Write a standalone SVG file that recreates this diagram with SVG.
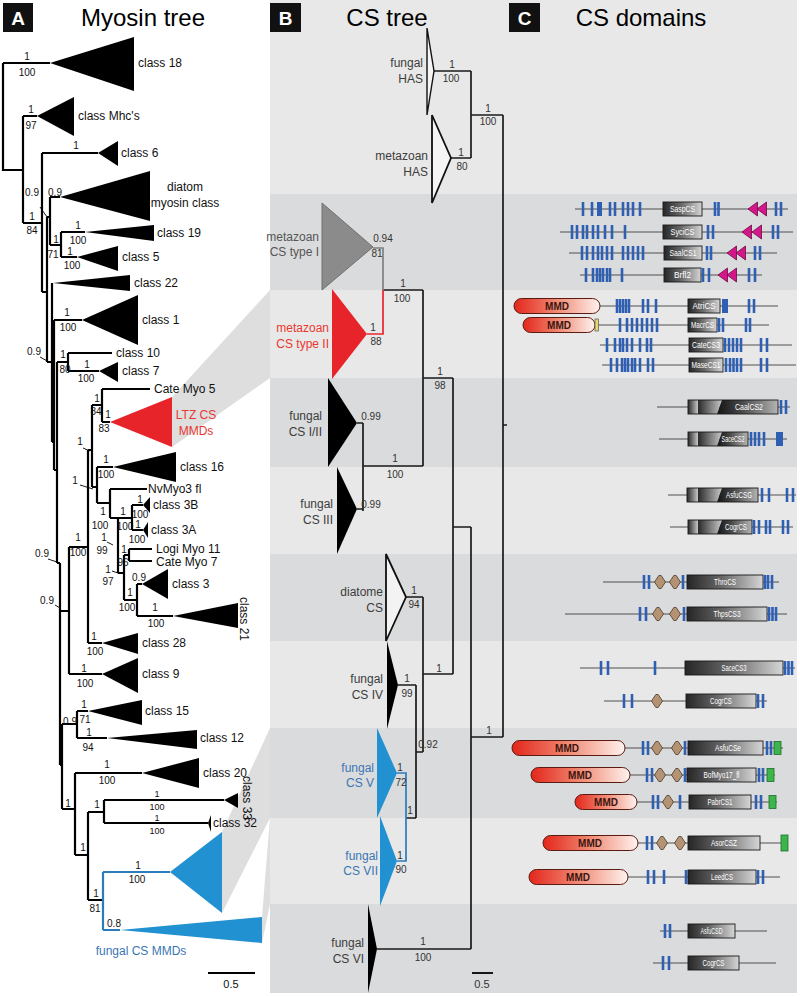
<svg xmlns="http://www.w3.org/2000/svg" width="800" height="996" viewBox="0 0 800 996">
<defs>
<linearGradient id="gcs" x1="0" y1="0" x2="1" y2="0"><stop offset="0" stop-color="#262626"/><stop offset="0.45" stop-color="#666"/><stop offset="1" stop-color="#d6d6d6"/></linearGradient>
<linearGradient id="gseg" x1="0" y1="0" x2="1" y2="0"><stop offset="0" stop-color="#2a2a2a"/><stop offset="1" stop-color="#c8c8c8"/></linearGradient>
<linearGradient id="gdk" x1="0" y1="0" x2="1" y2="0"><stop offset="0" stop-color="#141414"/><stop offset="0.4" stop-color="#474747"/><stop offset="1" stop-color="#b4b4b4"/></linearGradient>
<linearGradient id="gmmd" x1="0" y1="0" x2="1" y2="0"><stop offset="0" stop-color="#e3261b"/><stop offset="0.5" stop-color="#f08a74"/><stop offset="1" stop-color="#fff3ef"/></linearGradient>
<rect id="b" x="-1.3" y="-7" width="2.6" height="14" fill="#2f5fb2"/>
<polygon id="d" points="-5.5,0 -1.2,-6.5 1.2,-6.5 5.5,0 1.2,6.5 -1.2,6.5" fill="#b39373" stroke="#4a3a2a" stroke-width="0.8"/>
<polygon id="mt" points="0,0 9.5,-7 9.5,7" fill="#d5168b" stroke="#6a0a40" stroke-width="0.8"/>
<rect id="gb" x="0" y="-6.5" width="7" height="13" fill="#3db54a" stroke="#1d6e2a" stroke-width="0.8"/>
</defs>
<style>
text{font-family:"Liberation Sans",Arial,sans-serif}
.ttl{font-size:24px;text-anchor:middle;fill:#000}
.pl{font-size:19px;font-weight:bold;fill:#fff;text-anchor:middle}
.ml{font-size:12px;fill:#111}
.mc{font-size:12px;fill:#111;text-anchor:middle}
.s{font-size:10px;fill:#111;text-anchor:middle}
.s9{font-size:9px}
.cs{font-size:10px;fill:#333;text-anchor:middle}
.cl{font-size:12px;fill:#3c3c3c;text-anchor:end}
.tr{stroke:#000;stroke-width:2.2;fill:none}
.ct{stroke:#1a1a1a;stroke-width:1.7;fill:none}
.tk{stroke:#000;stroke-width:0.9}
.bk{fill:#000}
.ln{stroke:#505050;stroke-width:1.2}
.bx{stroke:#1a1a1a;stroke-width:0.9}
.bt{font-size:9px;fill:#fff;text-anchor:middle}
.mmd{fill:url(#gmmd);stroke:#5a1c12;stroke-width:1}
.mtx{font-size:10px;font-weight:bold;fill:#3b150f;text-anchor:middle}
.lt{fill:#e8e8e8}.dk{fill:#dadbdc}
.wd{fill:#dedede}
.red{fill:#e8242b}.blue{fill:#2191d1}
.bl{fill:#3a76b4}
</style>
<rect x="0" y="0" width="800" height="996" fill="#fff"/>
<g id="bands">
<rect class="lt" x="270" y="0" width="527" height="194"/>
<rect class="dk" x="270" y="194" width="527" height="96"/>
<rect class="lt" x="270" y="290" width="527" height="88"/>
<rect class="dk" x="270" y="378" width="527" height="89"/>
<rect class="lt" x="270" y="467" width="527" height="87"/>
<rect class="dk" x="270" y="554" width="527" height="87"/>
<rect class="lt" x="270" y="641" width="527" height="87"/>
<rect class="dk" x="270" y="728" width="527" height="90"/>
<rect class="lt" x="270" y="818" width="527" height="86"/>
<rect class="dk" x="270" y="904" width="527" height="89"/>
</g>
<g id="wedges">
<polygon class="wd" points="172,397 270,290 270,378 172,447"/>
<polygon class="wd" points="222,832 270,728 270,818 222,913"/>
<polygon class="wd" points="262,917 270,818 270,904 262,943"/>
</g>
<g id="titles">
<rect x="3" y="3" width="30" height="29" fill="#111"/><text class="pl" x="18" y="24.5">A</text>
<text class="ttl" x="143" y="26">Myosin tree</text>
<rect x="270" y="3" width="31" height="29" fill="#111"/><text class="pl" x="285.5" y="24.5">B</text>
<text class="ttl" x="387" y="26">CS tree</text>
<rect x="509" y="3" width="31" height="29" fill="#111"/><text class="pl" x="524.5" y="24.5">C</text>
<text class="ttl" x="641" y="26">CS domains</text>
</g>
<g id="myosin-connectors">
<path class="tr" d="M3,63H50 M3,63V170H23 M23,116V223 M23,116H37 M23,223H42 M42,153V292 M42,153H98 M42,292H47 M47,217V362 M47,217H50 M50,197V245 M50,197H60 M50,245H61 M61,232V257 M61,232H85 M61,257H77 M47,362H52 M52,283V442 M52,442H54 M54,320V470 M54,320H82 M54,470H57 M57,362V563 M57,362H68 M68,353V371 M68,353H112 M68,371H99 M57,563H60 M60,563V765 M60,611H69 M69,547V674 M69,547H88 M69,674H102 M88,450V643 M88,450H92 M88,643H102 M92,405V487 M92,405H102 M102,389V422 M102,389H150 M102,422H110 M92,487H97 M97,467V503 M97,467H113 M97,503H110 M110,489V518 M110,489H147 M110,518H132 M118,518V573 M132,505V530 M132,505H143 M132,530H143 M118,573H124 M124,555V600 M124,555H129 M129,549V561 M129,549H152 M129,561H152 M124,600H137 M137,584V616 M137,584H142 M137,616H173 M60,765H62 M62,724V809 M62,724H77 M77,711V738 M77,711H88 M77,738H107 M62,809H75 M75,773V855 M75,773H142 M75,855H88 M88,812V900 M88,812H104 M104,800V823 M104,800H224 M104,823H208 M88,900H103"/>
<path d="M103,872V930 M103,872H170 M103,930H120" stroke="#2b7bbd" stroke-width="2.2" fill="none"/>
<path class="tk" d="M40,207L47,217 M40,357L49,362 M83,448L90,451 M80,485L93,489 M107,542L113,545 M112,571L118,573 M48,559L57,562 M55,605L60,608"/>
<path d="M208,973H255" stroke="#000" stroke-width="1.8"/>
</g>
<g id="myosin-support">
<text class="s" x="27" y="60">1</text><text class="s" x="27" y="76">100</text>
<text class="s" x="31" y="113">1</text><text class="s" x="31" y="129">97</text>
<text class="s" x="76" y="149">1</text>
<text class="s" x="32" y="196">0.9</text><text class="s" x="55" y="196">0.9</text>
<text class="s" x="32" y="220">1</text><text class="s" x="32" y="234">84</text>
<text class="s" x="78" y="229">1</text><text class="s" x="78" y="244">100</text>
<text class="s" x="56" y="243">1</text><text class="s" x="53" y="258">71</text>
<text class="s" x="70" y="255">1</text><text class="s" x="72" y="269">100</text>
<text class="s" x="67" y="316">1</text><text class="s" x="68" y="331">100</text>
<text class="s" x="34" y="355">0.9</text>
<text class="s" x="63" y="358">1</text><text class="s" x="65" y="373">80</text>
<text class="s" x="87" y="368">1</text><text class="s" x="86" y="382">100</text>
<text class="s" x="97" y="402">1</text><text class="s" x="96" y="415">84</text>
<text class="s" x="108" y="418">1</text><text class="s" x="104" y="432">83</text>
<text class="s" x="80" y="445">1</text>
<text class="s" x="106" y="463">1</text><text class="s" x="106" y="478">100</text>
<text class="s" x="75" y="484">1</text>
<text class="s" x="140" y="503">1</text><text class="s" x="140" y="518">100</text>
<text class="s" x="138" y="528">1</text><text class="s" x="137" y="543">100</text>
<text class="s" x="103" y="515">1</text><text class="s" x="100" y="529">100</text>
<text class="s" x="123" y="515">1</text><text class="s" x="125" y="530">100</text>
<text class="s" x="104" y="541">1</text><text class="s" x="102" y="554">99</text>
<text class="s" x="124" y="553">1</text><text class="s" x="123" y="566">96</text>
<text class="s" x="108" y="573">1</text><text class="s" x="108" y="585">97</text>
<text class="s" x="139" y="581">0.9</text>
<text class="s" x="130" y="596">1</text><text class="s" x="127" y="611">100</text>
<text class="s" x="155" y="611">1</text><text class="s" x="156" y="627">100</text>
<text class="s" x="42" y="557">0.9</text>
<text class="s" x="78" y="541">1</text><text class="s" x="78" y="556">100</text>
<text class="s" x="47" y="604">0.9</text>
<text class="s" x="94" y="640">1</text><text class="s" x="95" y="655">100</text>
<text class="s" x="84" y="672">1</text><text class="s" x="85" y="687">100</text>
<text class="s" x="84" y="708">1</text><text class="s" x="85" y="723">71</text>
<text class="s" x="70" y="725">0.9</text>
<text class="s" x="89" y="736">1</text><text class="s" x="88" y="751">94</text>
<text class="s" x="107" y="768">1</text><text class="s" x="107" y="784">100</text>
<text class="s" x="68" y="807">1</text>
<text class="s" x="97" y="808">1</text>
<text class="s s9" x="157" y="797">1</text><text class="s s9" x="157" y="809.5">100</text>
<text class="s s9" x="157" y="821">1</text><text class="s s9" x="157" y="834">100</text>
<text class="s" x="83" y="851">1</text>
<text class="s" x="138" y="869">1</text><text class="s" x="137" y="883">100</text>
<text class="s" x="96" y="897">1</text><text class="s" x="95" y="912">81</text>
<text class="s" x="114" y="927">0.8</text>
<text class="s" x="231" y="988" style="font-size:11px">0.5</text>
</g>
<g id="m-class18"><polygon class="bk" points="50,63 134,37 134,91"/><text class="ml" x="138" y="67">class 18</text></g>
<g id="m-mhc"><polygon class="bk" points="37,116 74,97 74,136"/><text class="ml" x="78" y="120">class Mhc's</text></g>
<g id="m-class6"><polygon class="bk" points="98,153 118,141 118,166"/><text class="ml" x="121" y="157">class 6</text></g>
<g id="m-diatom"><polygon class="bk" points="60,197 150,171 150,221"/><text class="mc" x="185" y="191">diatom</text><text class="mc" x="185" y="207">myosin class</text></g>
<g id="m-class19"><polygon class="bk" points="85,232 154,225 154,241"/><text class="ml" x="157" y="237">class 19</text></g>
<g id="m-class5"><polygon class="bk" points="77,257 118,246 118,271"/><text class="ml" x="122" y="261">class 5</text></g>
<g id="m-class22"><polygon class="bk" points="53,283 130,275 130,291"/><text class="ml" x="134" y="287">class 22</text></g>
<g id="m-class1"><polygon class="bk" points="82,320 138,295 138,345"/><text class="ml" x="142" y="324">class 1</text></g>
<g id="m-class10"><text class="ml" x="116" y="357">class 10</text></g>
<g id="m-class7"><polygon class="bk" points="99,371 118,362 118,382"/><text class="ml" x="122" y="375">class 7</text></g>
<g id="m-cate5"><text class="ml" x="154" y="393">Cate Myo 5</text></g>
<g id="m-ltz"><polygon class="red" points="110,422 172,397 172,447"/><text class="mc" x="196" y="419" style="fill:#e8372f">LTZ CS</text><text class="mc" x="196" y="435" style="fill:#e8372f">MMDs</text></g>
<g id="m-class16"><polygon class="bk" points="113,467 176,452 176,482"/><text class="ml" x="180" y="471">class 16</text></g>
<g id="m-nvmyo3"><text class="ml" x="148" y="493">NvMyo3 fl</text></g>
<g id="m-class3b"><polygon class="bk" points="143,505 150,497 150,513"/><text class="ml" x="153" y="509">class 3B</text></g>
<g id="m-class3a"><polygon class="bk" points="143,530 148,522 148,538"/><text class="ml" x="151" y="534">class 3A</text></g>
<g id="m-logi11"><text class="ml" x="156" y="552.5">Logi Myo 11</text></g>
<g id="m-cate7"><text class="ml" x="156" y="566">Cate Myo 7</text></g>
<g id="m-class3"><polygon class="bk" points="142,584 168,569 168,599"/><text class="ml" x="172" y="588">class 3</text></g>
<g id="m-class21"><polygon class="bk" points="173,616 238,603 238,628"/><text class="ml" transform="translate(240,597) rotate(90)">class 21</text></g>
<g id="m-class28"><polygon class="bk" points="102,643 138,633 138,654"/><text class="ml" x="142" y="647">class 28</text></g>
<g id="m-class9"><polygon class="bk" points="102,674 138,658 138,693"/><text class="ml" x="142" y="678">class 9</text></g>
<g id="m-class15"><polygon class="bk" points="88,711 142,700 142,725"/><text class="ml" x="145" y="715">class 15</text></g>
<g id="m-class12"><polygon class="bk" points="107,738 197,730 197,749"/><text class="ml" x="200" y="742">class 12</text></g>
<g id="m-class20"><polygon class="bk" points="142,773 199,758 199,788"/><text class="ml" x="203" y="777">class 20</text></g>
<g id="m-class33"><polygon class="bk" points="224,800 238,793 238,808"/><text class="ml" transform="translate(243,776) rotate(90)">class 33</text></g>
<g id="m-class32"><polygon class="bk" points="208,823 211,815 211,832"/><text class="ml" x="213" y="827">class 32</text></g>
<g id="m-fungal1"><polygon class="blue" points="170,872 222,832 222,913"/></g>
<g id="m-fungal2"><polygon class="blue" points="120,930 262,917 262,943"/><text class="mc" x="141" y="955" style="fill:#3a76b4">fungal CS MMDs</text></g>
<g id="cs-connectors">
<path class="ct" d="M434,71H471 M451,158H471 M471,71V158 M471,115H503 M503,115V737 M471,737H503 M471,527V949 M453,527H471 M453,378V674 M423,378H453 M423,290V466 M383,290H423 M363,466H423 M363,423V511 M357,423H363 M357,509H363 M423,674H453 M423,597V752 M406,597H423 M416,752H423 M416,685V818 M398,685H416 M406,818H416 M377,949H471 M503,425H507"/>
<path d="M373,248H383V290" stroke="#808080" stroke-width="1.7" fill="none"/>
<path d="M383,290V334H367" stroke="#e8242b" stroke-width="1.7" fill="none"/>
<path d="M397,773H406V861H397" stroke="#2b7bbd" stroke-width="1.7" fill="none"/>
<path d="M472,973H493" stroke="#000" stroke-width="1.8"/>
</g>
<g id="cs-support">
<text class="cs" x="452" y="68">1</text><text class="cs" x="451" y="82">100</text>
<text class="cs" x="488" y="112">1</text><text class="cs" x="488" y="125">100</text>
<text class="cs" x="461" y="156">1</text><text class="cs" x="462" y="170">80</text>
<text class="cs" x="383" y="242">0.94</text><text class="cs" x="377" y="257">81</text>
<text class="cs" x="403" y="287">1</text><text class="cs" x="402" y="302">100</text>
<text class="cs" x="373" y="331">1</text><text class="cs" x="376" y="345">88</text>
<text class="cs" x="440" y="375">1</text><text class="cs" x="440" y="389">98</text>
<text class="cs" x="371" y="420">0.99</text>
<text class="cs" x="395" y="462">1</text><text class="cs" x="395" y="478">100</text>
<text class="cs" x="371" y="508">0.99</text>
<text class="cs" x="414" y="594">1</text><text class="cs" x="414" y="608">94</text>
<text class="cs" x="439" y="672">1</text>
<text class="cs" x="407" y="682">1</text><text class="cs" x="407" y="697">99</text>
<text class="cs" x="489" y="734">1</text>
<text class="cs" x="428" y="748">0.92</text>
<text class="cs" x="400" y="771">1</text><text class="cs" x="401" y="786">72</text>
<text class="cs" x="410" y="814">1</text>
<text class="cs" x="400" y="859">1</text><text class="cs" x="401" y="873">90</text>
<text class="cs" x="423" y="945">1</text><text class="cs" x="423" y="961">100</text>
<text class="cs" x="482" y="988" style="font-size:11px">0.5</text>
</g>
<g id="cs-fhas"><polygon points="427,28 434,71 427,115" fill="#f5f5f5" stroke="#111" stroke-width="1.4"/><text class="cl" x="423" y="67">fungal</text><text class="cl" x="423" y="83">HAS</text></g>
<g id="cs-mhas"><polygon points="432,115 451,158 432,203" fill="#f5f5f5" stroke="#111" stroke-width="1.8"/><text class="cl" x="428" y="160">metazoan</text><text class="cl" x="428" y="176">HAS</text></g>
<g id="cs-m1"><polygon points="322,203 373,247 322,290" fill="#8b8b8b" stroke="#707070" stroke-width="1"/><text class="cl" x="319" y="241" style="fill:#555">metazoan</text><text class="cl" x="319" y="256" style="fill:#555">CS type I</text></g>
<g id="cs-m2"><polygon class="red" points="332,289 367,334 332,379"/><text class="cl" x="329" y="332" style="fill:#e8372f">metazoan</text><text class="cl" x="329" y="348" style="fill:#e8372f">CS type II</text></g>
<g id="cs-f12"><polygon class="bk" points="328,378 357,423 328,467"/><text class="cl" x="322" y="420">fungal</text><text class="cl" x="322" y="436">CS I/II</text></g>
<g id="cs-f3"><polygon class="bk" points="337,467 357,509 337,554"/><text class="cl" x="333" y="508">fungal</text><text class="cl" x="333" y="524">CS III</text></g>
<g id="cs-dia"><polygon points="386,554 406,597 386,641" fill="#f3f3f3" stroke="#111" stroke-width="1.8"/><text class="cl" x="383" y="596">diatome</text><text class="cl" x="383" y="612">CS</text></g>
<g id="cs-f4"><polygon class="bk" points="387,641 398,685 387,729"/><text class="cl" x="383" y="683">fungal</text><text class="cl" x="383" y="699">CS IV</text></g>
<g id="cs-f5"><polygon class="blue" points="377,728 397,773 377,818"/><text class="cl bl" x="374" y="772">fungal</text><text class="cl bl" x="374" y="787">CS V</text></g>
<g id="cs-f7"><polygon class="blue" points="380,816 397,861 380,906"/><text class="cl bl" x="378" y="860">fungal</text><text class="cl bl" x="378" y="875">CS VII</text></g>
<g id="cs-f6"><polygon class="bk" points="368,904 377,949 368,993"/><text class="cl" x="364" y="947">fungal</text><text class="cl" x="364" y="963">CS VI</text></g>
<g id="d-saspcs">
<line class="ln" x1="575" y1="209" x2="788" y2="209"/>
<use href="#b" x="583" y="209"/><use href="#b" x="592" y="209"/><rect x="597" y="202" width="5" height="14" fill="#2f5fb2"/><use href="#b" x="610" y="209"/><use href="#b" x="615" y="209"/><use href="#b" x="623" y="209"/><use href="#b" x="628" y="209"/><use href="#b" x="633" y="209"/><use href="#b" x="640" y="209"/>
<rect class="bx" x="663" y="202" width="39" height="14" fill="url(#gcs)"/><text class="bt" x="682.5" y="212" textLength="25" lengthAdjust="spacingAndGlyphs">SaspCS</text>
<use href="#b" x="715" y="209"/><use href="#b" x="718.5" y="209"/><use href="#mt" x="748" y="209"/><use href="#mt" x="757" y="209"/><use href="#b" x="776" y="209"/><use href="#b" x="781" y="209"/>
</g>
<g id="d-syci">
<line class="ln" x1="560" y1="232" x2="793" y2="232"/>
<use href="#b" x="572" y="232"/><use href="#b" x="577" y="232"/><use href="#b" x="583" y="232"/><use href="#b" x="587" y="232"/><use href="#b" x="593" y="232"/><use href="#b" x="598" y="232"/><use href="#b" x="605" y="232"/><use href="#b" x="612" y="232"/><use href="#b" x="625" y="232"/>
<rect class="bx" x="663" y="225" width="39" height="14" fill="url(#gcs)"/><text class="bt" x="682.5" y="235" textLength="24" lengthAdjust="spacingAndGlyphs">SyciCS</text>
<use href="#b" x="708" y="232"/><use href="#b" x="713" y="232"/><use href="#mt" x="742" y="232"/><use href="#mt" x="752" y="232"/><use href="#b" x="773" y="232"/><use href="#b" x="778" y="232"/>
</g>
<g id="d-saal1">
<line class="ln" x1="569" y1="253" x2="777" y2="253"/>
<use href="#b" x="582" y="253"/><use href="#b" x="587" y="253"/><use href="#b" x="593" y="253"/><use href="#b" x="598" y="253"/><use href="#b" x="602" y="253"/><use href="#b" x="607" y="253"/><use href="#b" x="612" y="253"/><use href="#b" x="623" y="253"/><use href="#b" x="628" y="253"/><use href="#b" x="633" y="253"/><use href="#b" x="638" y="253"/><use href="#b" x="643" y="253"/>
<rect class="bx" x="664" y="246" width="38" height="14" fill="url(#gcs)"/><text class="bt" x="683" y="256" textLength="27" lengthAdjust="spacingAndGlyphs">SaalCS1</text>
<use href="#b" x="707" y="253"/><use href="#b" x="711" y="253"/><use href="#mt" x="727" y="253"/><use href="#mt" x="736" y="253"/><use href="#b" x="755" y="253"/><use href="#b" x="760" y="253"/>
</g>
<g id="d-brfl2">
<line class="ln" x1="580" y1="275" x2="762" y2="275"/>
<use href="#b" x="586" y="275"/><use href="#b" x="593" y="275"/><use href="#b" x="597" y="275"/><use href="#b" x="600" y="275"/><use href="#b" x="603" y="275"/><use href="#b" x="607" y="275"/><use href="#b" x="610" y="275"/><use href="#b" x="622" y="275"/>
<rect class="bx" x="664" y="268" width="37" height="14" fill="url(#gcs)"/><text class="bt" x="682.5" y="278" textLength="17" lengthAdjust="spacingAndGlyphs">Brfl2</text>
<use href="#b" x="703" y="275"/><use href="#b" x="709" y="275"/><use href="#mt" x="718" y="275"/><use href="#mt" x="727" y="275"/><use href="#b" x="749" y="275"/><use href="#b" x="755" y="275"/>
</g>
<g id="d-atri">
<line class="ln" x1="600" y1="306" x2="778" y2="306"/>
<rect class="mmd" x="514" y="298.5" width="86" height="15" rx="7.5"/><text class="mtx" x="557" y="309.5">MMD</text>
<use href="#b" x="617" y="306"/><use href="#b" x="620" y="306"/><use href="#b" x="623" y="306"/><use href="#b" x="626" y="306"/><use href="#b" x="629" y="306"/><use href="#b" x="643" y="306"/><use href="#b" x="648" y="306"/><use href="#b" x="656" y="306"/>
<rect class="bx" x="688" y="299" width="32" height="14" fill="url(#gcs)"/><text class="bt" x="704" y="309" textLength="23" lengthAdjust="spacingAndGlyphs">AtriCS</text>
<rect x="722" y="299" width="6" height="14" fill="#2f5fb2"/><use href="#b" x="749" y="306"/><use href="#b" x="754" y="306"/>
</g>
<g id="d-macr">
<line class="ln" x1="598" y1="325" x2="769" y2="325"/>
<rect class="mmd" x="523" y="317.5" width="72" height="15" rx="7.5"/><text class="mtx" x="559" y="328.5">MMD</text>
<rect x="595" y="319" width="3.5" height="12" fill="#e6d86a" stroke="#555" stroke-width="0.7"/>
<use href="#b" x="620" y="325"/><use href="#b" x="627" y="325"/><use href="#b" x="632" y="325"/><use href="#b" x="637" y="325"/><use href="#b" x="642" y="325"/><use href="#b" x="647" y="325"/><use href="#b" x="652" y="325"/><use href="#b" x="657" y="325"/>
<rect class="bx" x="688" y="318" width="29" height="14" fill="url(#gcs)"/><text class="bt" x="702.5" y="328" textLength="23" lengthAdjust="spacingAndGlyphs">MacrCS</text>
<use href="#b" x="719" y="325"/><use href="#b" x="723" y="325"/><use href="#b" x="746" y="325"/><use href="#b" x="750" y="325"/>
</g>
<g id="d-cate3">
<line class="ln" x1="600" y1="345" x2="792" y2="345"/>
<use href="#b" x="607" y="345"/><use href="#b" x="615" y="345"/><use href="#b" x="620" y="345"/><use href="#b" x="623" y="345"/><use href="#b" x="627" y="345"/><use href="#b" x="632" y="345"/><use href="#b" x="640" y="345"/><use href="#b" x="647" y="345"/><use href="#b" x="651" y="345"/>
<rect class="bx" x="689" y="338" width="34" height="14" fill="url(#gcs)"/><text class="bt" x="706" y="348" textLength="28" lengthAdjust="spacingAndGlyphs">CateCS3</text>
<use href="#b" x="725" y="345"/><use href="#b" x="729" y="345"/><use href="#b" x="733" y="345"/><use href="#b" x="737" y="345"/><use href="#b" x="741" y="345"/><use href="#b" x="761" y="345"/><use href="#b" x="767" y="345"/>
</g>
<g id="d-mase1">
<line class="ln" x1="602" y1="365" x2="796" y2="365"/>
<use href="#b" x="611" y="365"/><use href="#b" x="617" y="365"/><use href="#b" x="622" y="365"/><use href="#b" x="625" y="365"/><use href="#b" x="628" y="365"/><use href="#b" x="632" y="365"/><use href="#b" x="635" y="365"/><use href="#b" x="640" y="365"/><use href="#b" x="648" y="365"/><use href="#b" x="653" y="365"/>
<rect class="bx" x="689" y="358" width="34" height="14" fill="url(#gcs)"/><text class="bt" x="706" y="368" textLength="29" lengthAdjust="spacingAndGlyphs">MaseCS1</text>
<use href="#b" x="726" y="365"/><use href="#b" x="730" y="365"/><use href="#b" x="733.5" y="365"/><use href="#b" x="737" y="365"/><use href="#b" x="741" y="365"/><use href="#b" x="761" y="365"/><use href="#b" x="767" y="365"/>
</g>
<g id="d-caal2">
<line class="ln" x1="657" y1="407" x2="790" y2="407"/>
<rect x="688" y="400" width="10" height="14" fill="url(#gseg)"/><polygon points="698,400 722,400 717,414 698,414" fill="url(#gseg)"/><polygon points="722,400 778,400 778,414 717,414" fill="url(#gdk)"/><rect class="bx" x="688" y="400" width="90" height="14" fill="none"/>
<text class="bt" x="749" y="410" textLength="28" lengthAdjust="spacingAndGlyphs">CaalCS2</text>
<use href="#b" x="781" y="407"/><use href="#b" x="786" y="407"/>
</g>
<g id="d-sace2">
<line class="ln" x1="659" y1="439" x2="787" y2="439"/>
<rect x="688" y="432" width="10" height="14" fill="url(#gseg)"/><polygon points="698,432 722,432 717,446 698,446" fill="url(#gseg)"/><polygon points="722,432 748,432 748,446 717,446" fill="url(#gdk)"/><rect class="bx" x="688" y="432" width="60" height="14" fill="none"/>
<text class="bt" x="733" y="442" textLength="23" lengthAdjust="spacingAndGlyphs">SaceCS2</text>
<use href="#b" x="751" y="439"/><use href="#b" x="755" y="439"/><use href="#b" x="759" y="439"/><use href="#b" x="764" y="439"/><rect x="776" y="432" width="7" height="14" fill="#2f5fb2"/>
</g>
<g id="d-asfug">
<line class="ln" x1="668" y1="495" x2="796" y2="495"/>
<rect x="687" y="488" width="11" height="14" fill="url(#gseg)"/><polygon points="698,488 722,488 717,502 698,502" fill="url(#gseg)"/><polygon points="722,488 758,488 758,502 717,502" fill="url(#gdk)"/><rect class="bx" x="687" y="488" width="71" height="14" fill="none"/>
<text class="bt" x="739" y="498" textLength="26" lengthAdjust="spacingAndGlyphs">AsfuCSG</text>
<use href="#b" x="762" y="495"/><use href="#b" x="769" y="495"/><use href="#b" x="787" y="495"/><use href="#b" x="793" y="495"/>
</g>
<g id="d-cogr1">
<line class="ln" x1="670" y1="527" x2="793" y2="527"/>
<rect x="688" y="520" width="10" height="14" fill="url(#gseg)"/><polygon points="698,520 722,520 717,534 698,534" fill="url(#gseg)"/><polygon points="722,520 752,520 752,534 717,534" fill="url(#gdk)"/><rect class="bx" x="688" y="520" width="64" height="14" fill="none"/>
<text class="bt" x="736" y="530" textLength="22" lengthAdjust="spacingAndGlyphs">CogrCS</text>
<use href="#b" x="754" y="527"/><use href="#b" x="759" y="527"/><use href="#b" x="766" y="527"/><use href="#b" x="770" y="527"/><use href="#b" x="783" y="527"/><use href="#b" x="788" y="527"/>
</g>
<g id="d-thro">
<line class="ln" x1="603" y1="582" x2="779" y2="582"/>
<use href="#b" x="644" y="582"/><use href="#b" x="649" y="582"/><use href="#d" x="660" y="582"/><use href="#d" x="675" y="582"/><use href="#b" x="683" y="582"/>
<rect class="bx" x="687" y="575" width="76" height="14" fill="url(#gcs)"/><text class="bt" x="725" y="585" textLength="22" lengthAdjust="spacingAndGlyphs">ThroCS</text>
<use href="#b" x="765" y="582"/><use href="#b" x="768" y="582"/><use href="#b" x="772" y="582"/>
</g>
<g id="d-thps3">
<line class="ln" x1="565" y1="614" x2="787" y2="614"/>
<use href="#b" x="640" y="614"/><use href="#b" x="646" y="614"/><use href="#d" x="658" y="614"/><use href="#d" x="675" y="614"/><use href="#b" x="684" y="614"/>
<rect class="bx" x="687" y="607" width="80" height="14" fill="url(#gcs)"/><text class="bt" x="727" y="617" textLength="27" lengthAdjust="spacingAndGlyphs">ThpsCS3</text>
<use href="#b" x="769" y="614"/><use href="#b" x="772.5" y="614"/><use href="#b" x="776" y="614"/>
</g>
<g id="d-sace3">
<line class="ln" x1="580" y1="668" x2="795" y2="668"/>
<use href="#b" x="601" y="668"/><use href="#b" x="608" y="668"/><use href="#b" x="655" y="668"/>
<rect class="bx" x="685" y="661" width="98" height="14" fill="url(#gcs)"/><text class="bt" x="734" y="671" textLength="25" lengthAdjust="spacingAndGlyphs">SaceCS3</text>
<use href="#b" x="785" y="668"/><use href="#b" x="788.5" y="668"/><use href="#b" x="792" y="668"/>
</g>
<g id="d-cogr2">
<line class="ln" x1="604" y1="701" x2="767" y2="701"/>
<use href="#b" x="624" y="701"/><use href="#b" x="632" y="701"/><use href="#d" x="657" y="701"/>
<rect class="bx" x="686" y="694" width="70" height="14" fill="url(#gcs)"/><text class="bt" x="721" y="704" textLength="22" lengthAdjust="spacingAndGlyphs">CogrCS</text>
<use href="#b" x="758" y="701"/><use href="#b" x="763" y="701"/>
</g>
<g id="d-asfue">
<line class="ln" x1="625" y1="748" x2="783" y2="748"/>
<rect class="mmd" x="512" y="740.5" width="113" height="15" rx="7.5"/><text class="mtx" x="567" y="751.5">MMD</text>
<use href="#b" x="643" y="748"/><use href="#b" x="648" y="748"/><use href="#d" x="657" y="748"/><use href="#d" x="677" y="748"/><use href="#b" x="685" y="748"/>
<rect class="bx" x="688" y="741" width="75" height="14" fill="url(#gcs)"/><text class="bt" x="728" y="751" textLength="26" lengthAdjust="spacingAndGlyphs">AsfuCSe</text>
<use href="#b" x="767" y="748"/><use href="#b" x="771" y="748"/><use href="#gb" x="774" y="748"/>
</g>
<g id="d-bofmyo">
<line class="ln" x1="630" y1="775" x2="775" y2="775"/>
<rect class="mmd" x="531" y="767.5" width="99" height="15" rx="7.5"/><text class="mtx" x="580" y="778.5">MMD</text>
<use href="#b" x="647" y="775"/><use href="#b" x="652" y="775"/><use href="#d" x="660" y="775"/><use href="#d" x="677" y="775"/><use href="#b" x="685" y="775"/>
<rect class="bx" x="687" y="768" width="69" height="14" fill="url(#gcs)"/><text class="bt" x="721.5" y="778" textLength="36" lengthAdjust="spacingAndGlyphs">BofMyo17_fl</text>
<use href="#b" x="759" y="775"/><use href="#b" x="763" y="775"/><use href="#gb" x="767" y="775"/>
</g>
<g id="d-pabr1">
<line class="ln" x1="637" y1="802" x2="777" y2="802"/>
<rect class="mmd" x="575" y="794.5" width="62" height="15" rx="7.5"/><text class="mtx" x="606" y="805.5">MMD</text>
<use href="#b" x="653" y="802"/><use href="#b" x="658" y="802"/><use href="#d" x="668" y="802"/><use href="#b" x="680" y="802"/>
<rect class="bx" x="689" y="795" width="62" height="14" fill="url(#gcs)"/><text class="bt" x="720" y="805" textLength="25" lengthAdjust="spacingAndGlyphs">PabrCS1</text>
<use href="#b" x="756" y="802"/><use href="#b" x="761" y="802"/><use href="#gb" x="769" y="802"/>
</g>
<g id="d-asorz">
<line class="ln" x1="638" y1="843" x2="784" y2="843"/>
<rect class="mmd" x="543" y="835.5" width="95" height="15" rx="7.5"/><text class="mtx" x="590" y="846.5">MMD</text>
<use href="#b" x="647" y="843"/><use href="#b" x="652" y="843"/><use href="#d" x="662" y="843"/><use href="#d" x="680" y="843"/>
<rect class="bx" x="688" y="836" width="72" height="14" fill="url(#gcs)"/><text class="bt" x="724" y="846" textLength="26" lengthAdjust="spacingAndGlyphs">AsorCSZ</text>
<rect x="781" y="835" width="7" height="16" fill="#3db54a" stroke="#1d6e2a" stroke-width="0.8"/>
</g>
<g id="d-leed">
<line class="ln" x1="628" y1="877" x2="780" y2="877"/>
<rect class="mmd" x="529" y="869.5" width="99" height="15" rx="7.5"/><text class="mtx" x="578" y="880.5">MMD</text>
<use href="#b" x="648" y="877"/><use href="#b" x="654" y="877"/><use href="#b" x="664" y="877"/><use href="#b" x="686" y="877"/>
<rect class="bx" x="688" y="870" width="68" height="14" fill="url(#gcs)"/><text class="bt" x="722" y="880" textLength="22" lengthAdjust="spacingAndGlyphs">LeedCS</text>
<use href="#b" x="758" y="877"/><use href="#b" x="763" y="877"/>
</g>
<g id="d-asfud">
<line class="ln" x1="660" y1="931" x2="767" y2="931"/>
<use href="#b" x="665" y="931"/><use href="#b" x="670" y="931"/>
<rect class="bx" x="688" y="924" width="47" height="14" fill="url(#gcs)"/><text class="bt" x="711.5" y="934" textLength="22" lengthAdjust="spacingAndGlyphs">AsfuCSD</text>
</g>
<g id="d-cogr3">
<line class="ln" x1="653" y1="963" x2="776" y2="963"/>
<use href="#b" x="663" y="963"/><use href="#b" x="669" y="963"/>
<rect class="bx" x="688" y="956" width="51" height="14" fill="url(#gcs)"/><text class="bt" x="713.5" y="966" textLength="22" lengthAdjust="spacingAndGlyphs">CogrCS</text>
</g>
</svg>
